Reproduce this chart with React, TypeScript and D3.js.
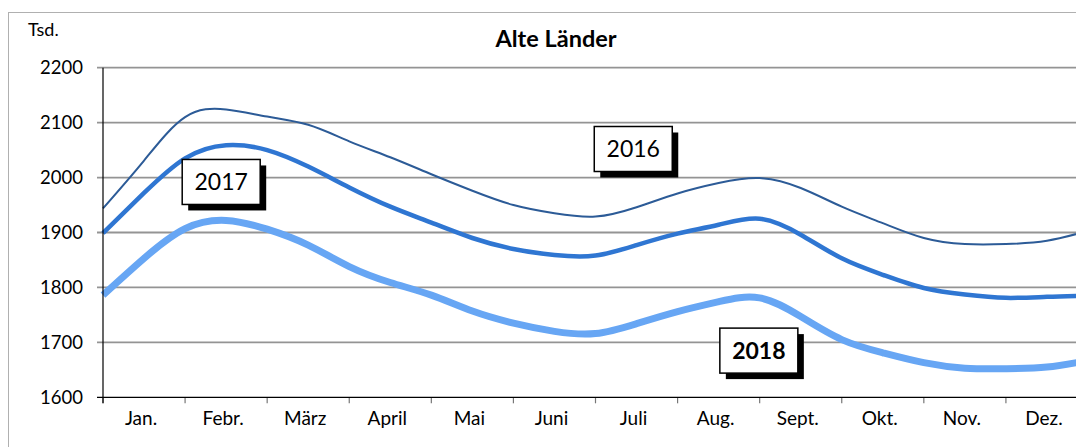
import { useEffect, useRef } from 'react';
import * as d3 from 'd3';

// month labels, one per band
const months = ['Jan.', 'Febr.', 'März', 'April', 'Mai', 'Juni', 'Juli', 'Aug.', 'Sept.', 'Okt.', 'Nov.', 'Dez.'];

// sample positions in months (half-month steps, 0 = start of Jan.)
const positions = [0, 0.5, 1, 1.5, 2, 2.5, 3, 3.5, 4, 4.5, 5, 5.5, 6, 6.5, 7, 7.5, 8, 8.5, 9, 9.5, 10, 10.5, 11, 11.5, 12];

// Tsd. persons
const values2016 = [1944, 2031, 2110, 2124, 2111, 2096, 2066, 2037, 2006, 1976, 1950, 1935, 1929, 1946, 1971, 1990, 1999, 1981, 1947, 1917, 1890, 1879, 1879, 1885, 1903];
const values2017 = [1899, 1972, 2035, 2059, 2050, 2020, 1982, 1947, 1918, 1890, 1870, 1859, 1858, 1877, 1898, 1914, 1925, 1896, 1853, 1823, 1799, 1787, 1781, 1783, 1785];
const values2018 = [1786, 1853, 1907, 1922, 1906, 1877, 1838, 1809, 1786, 1757, 1735, 1720, 1716, 1734, 1756, 1774, 1781, 1747, 1705, 1681, 1663, 1653, 1652, 1655, 1667];

const yTicks = [1600, 1700, 1800, 1900, 2000, 2100, 2200];

// year tags (anchor in month / value coordinates)
const tagYears = ['2016', '2017', '2018'];
const tagMonths = [6.46, 1.44, 7.99];
const tagValues = [2052, 1992, 1685];

interface Series {
  name: string;
  values: number[];
  color: string;
  width: number;
}

const series: Series[] = [
  { name: '2018', values: values2018, color: '#67a6f4', width: 7 },
  { name: '2017', values: values2017, color: '#2f76d2', width: 4.5 },
  { name: '2016', values: values2016, color: '#2c5b97', width: 2 },
];

const W = 1076;
const H = 447;
const FONT = 'Lato, "Open Sans", sans-serif';

export default function App() {
  const ref = useRef<SVGSVGElement>(null);

  useEffect(() => {
    if (!ref.current) return;
    const svg = d3.select(ref.current);
    svg.selectAll('*').remove();

    const left = 103, right = 1088, top = 67.7, bottom = 397.3;

    const x = d3.scaleLinear().domain([0, 12]).range([left, right]);
    const y = d3.scaleLinear().domain([1600, 2200]).range([bottom, top]);

    // outer frame
    svg.append('rect')
      .attr('x', 8.5).attr('y', 12.5)
      .attr('width', W).attr('height', H)
      .attr('fill', 'white').attr('stroke', '#b0b0b0').attr('stroke-width', 1);

    // title
    svg.append('text')
      .attr('x', 556).attr('y', 47)
      .attr('text-anchor', 'middle')
      .attr('font-family', FONT).attr('font-weight', 'bold').attr('font-size', 23.5)
      .text('Alte Länder');

    svg.append('text')
      .attr('x', 28).attr('y', 36)
      .attr('font-family', FONT).attr('font-size', 18)
      .text('Tsd.');

    // grid lines
    svg.append('g')
      .selectAll('line')
      .data(yTicks.filter(d => d > 1600))
      .enter().append('line')
      .attr('x1', left - 6).attr('x2', right)
      .attr('y1', (d: number) => y(d)).attr('y2', (d: number) => y(d))
      .attr('stroke', '#949494').attr('stroke-width', 1.8);

    // y labels
    svg.append('g')
      .selectAll('text')
      .data(yTicks)
      .enter().append('text')
      .attr('x', 83).attr('y', (d: number) => y(d))
      .attr('dy', '0.36em')
      .attr('text-anchor', 'end')
      .attr('font-family', FONT).attr('font-size', 18.5)
      .text((d: number) => String(d));

    // x ticks + labels
    svg.append('g')
      .selectAll('line')
      .data(d3.range(0, 13))
      .enter().append('line')
      .attr('x1', (d: number) => x(d)).attr('x2', (d: number) => x(d))
      .attr('y1', bottom).attr('y2', bottom + 6)
      .attr('stroke', '#777').attr('stroke-width', 1.2);

    svg.append('g')
      .selectAll('text')
      .data(months)
      .enter().append('text')
      .attr('x', (_d: string, i: number) => x(i + 0.5) - 3)
      .attr('y', 425)
      .attr('text-anchor', 'middle')
      .attr('font-family', FONT).attr('font-size', 19)
      .text((d: string) => d);

    // lines
    const line = d3.line<number>()
      .x((_d: number, i: number) => x(positions[i]))
      .y((d: number) => y(d))
      .curve(d3.curveNatural);

    series.forEach(s => {
      svg.append('path')
        .datum(s.values)
        .attr('fill', 'none')
        .attr('stroke', s.color)
        .attr('stroke-width', s.width)
        .attr('stroke-linejoin', 'round')
        .attr('d', line);
    });

    // axes
    svg.append('line')
      .attr('x1', left).attr('x2', left).attr('y1', top).attr('y2', bottom + 6)
      .attr('stroke', 'black').attr('stroke-width', 1.2);
    svg.append('line')
      .attr('x1', left - 6).attr('x2', right).attr('y1', bottom).attr('y2', bottom)
      .attr('stroke', 'black').attr('stroke-width', 1.2);

    // year tags with drop shadow
    const bw = 78, bh = 45;
    tagYears.forEach((t, i) => {
      const cx = x(tagMonths[i]);
      const cy = y(tagValues[i]);
      const g = svg.append('g');
      g.append('rect')
        .attr('x', cx - bw / 2 + 6).attr('y', cy - bh / 2 + 6)
        .attr('width', bw).attr('height', bh)
        .attr('fill', 'black');
      g.append('rect')
        .attr('x', cx - bw / 2).attr('y', cy - bh / 2)
        .attr('width', bw).attr('height', bh)
        .attr('fill', 'white').attr('stroke', 'black').attr('stroke-width', 1.5);
      g.append('text')
        .attr('x', cx).attr('y', cy)
        .attr('dy', '0.36em')
        .attr('text-anchor', 'middle')
        .attr('font-family', FONT).attr('font-size', 23)
        .attr('font-weight', t === '2018' ? 'bold' : 'normal')
        .text(t);
    });
  }, []);

  return (
    <svg
      ref={ref}
      width={W}
      height={H}
      style={{ position: 'absolute', left: 0, top: 0, background: 'white' }}
    />
  );
}
